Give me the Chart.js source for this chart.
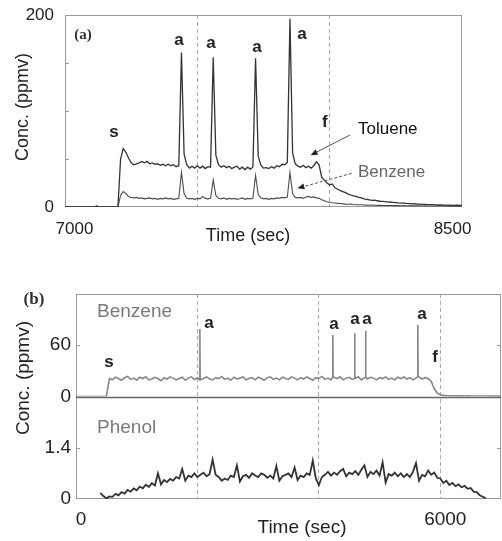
<!DOCTYPE html>
<html>
<head>
<meta charset="utf-8">
<script src="https://cdn.jsdelivr.net/npm/chart.js@4.4.1/dist/chart.umd.min.js"></script>
<style>
  body { margin: 0; background: #fff; }
  #wrap { position: relative; width: 502px; height: 541px; background: #fff; }
  canvas { position: absolute; left: 0; }
  #chartA { top: 0; }
  #chartB { top: 270px; }
</style>
</head>
<body>
<div id="wrap">
  <canvas id="chartA" width="502" height="250"></canvas>
  <canvas id="chartB" width="502" height="271"></canvas>
</div>
<script>
// panel (a): one reading every 10 s from 7000 s
const startA = 7000, stepA = 10;
const toluene = [
  0, 0, 0, 0, 0, 0, 0, 0, 0, 0,
  0, 0, 1.2, 0, 0, 0, 0, 0, 0, 0,
  0, 50, 61, 57, 51, 46, 44, 45, 46, 47.5,
  46, 47.5, 45, 46, 44.5, 45, 43.5, 44.5, 43, 44.5,
  43, 44, 42, 43, 161, 55, 44, 40.5, 42.5, 40.5,
  43, 40.5, 42.5, 40, 42, 41.5, 156, 54, 44, 41.5,
  43, 41, 42.5, 40, 41.5, 42.5, 39.5, 41.5, 39, 41.5,
  39.5, 41.5, 155, 53, 43.5, 40.5, 41, 40, 42, 40.5,
  43, 42, 44.5, 44, 46.5, 196, 56, 45, 42.5, 41.5,
  43.5, 41, 42.5, 40.5, 43, 47, 44, 31, 28, 25,
  23, 24, 20, 18.5, 17, 16, 15, 13.5, 12.5, 11.5,
  11, 10, 9.5, 8.5, 8, 7.5, 7, 7.2, 6.5, 6,
  5.8, 5.5, 5, 5.2, 4.8, 4.5, 4.2, 4, 4.1, 3.7,
  3.5, 3.3, 3.4, 3, 2.9, 2.7, 2.8, 2.5, 2.4, 2.5,
  2.2, 2.1, 2.3, 2, 1.9, 2, 1.8, 1.7, 1.9, 1.6,
  1.6
];
const benzeneA = [
  0, 0, 0, 0, 0, 0, 0, 0, 0, 0,
  0, 0, 0.5, 0, 0, 0, 0, 0, 0, 0,
  0, 12, 16, 14, 11, 10, 9.5, 10, 9, 9.5,
  8.5, 9, 9.5, 8.5, 9, 8, 9, 8.5, 9.5, 8.5,
  9, 8, 8.5, 9, 36, 14, 9, 8.5, 9, 8,
  9, 8.5, 11, 9, 8.5, 9, 28, 12, 9, 8.5,
  9.5, 8, 9, 8.5, 9, 8, 8.5, 9.5, 8, 9,
  8.5, 9, 33, 13, 9.5, 8.5, 9, 8, 9, 8.5,
  9.5, 9, 10, 9.5, 10, 36, 14, 10, 9.5, 10,
  9, 10.5, 11, 10, 10.5, 9.5, 9, 7.5, 6.5, 5.5,
  5, 4.5, 4.2, 3.8, 3.6, 3.3, 3, 2.8, 3, 2.6,
  2.4, 2.3, 2.4, 2.1, 2, 1.9, 2, 1.8, 1.7, 1.8,
  1.6, 1.6, 1.5, 1.5, 1.4, 1.5, 1.4, 1.3, 1.4, 1.3,
  1.3, 1.2, 1.3, 1.2, 1.2, 1.1, 1.2, 1.1, 1.1, 1.0,
  1.1, 1.0, 1.1, 1.0, 1.0, 0.9, 1.0, 0.9, 0.9, 1.0,
  0.9
];
const xTicksA = [7000, 7500, 8000, 8500];
const xTickLabelsA = ["\u2007\u20077000", "", "", "8500\u2007\u2007"];
const yTicksA = [0, 50, 100, 150, 200];
const yTickLabelsA = ["0", "", "", "", "200"];

// panel (b): one reading every 50 s from 0 s
const startB = 0, stepB = 50;
const benzeneB = [
  0, 0, 0, 0, 0, 0, 0, 0, 0, 0,
  0, 21, 19.5, 22.5, 21, 19, 22, 23.5, 20, 21.5,
  19, 22.5, 21, 23, 19.5, 20.5, 22.5, 21, 18.5, 22,
  20.5, 23, 21.5, 19.5, 21, 22.5, 19, 21.5, 23, 20,
  22, 19.5, 21, 23, 20.5, 19.5, 22, 21, 23.5, 20,
  21.5, 19, 22.5, 20.5, 21.5, 23, 19.5, 21, 22, 19.5,
  22.5, 21, 19, 22, 23, 20, 21.5, 19.5, 22.5, 21,
  20, 23, 21.5, 19.5, 22, 20.5, 23, 21, 19, 22,
  21, 23.5, 20, 21.5, 19.5, 22.5, 21, 23, 19.5, 21.5,
  22.5, 20, 21, 23, 19.5, 22, 20.5, 22.5, 21.5, 19.5,
  22, 21, 23, 20, 21.5, 19.5, 22.5, 21, 23, 20.5,
  22, 19.5, 21.5, 23, 20.5, 22, 21, 18, 9, 4,
  2, 1.3, 1, 0.9, 0.8, 0.7, 0.8, 0.7, 0.6, 0.7,
  0.6, 0.6, 0.5, 0.6, 0.5, 0.5, 0.5, 0.4, 0.5, 0.4,
  0.4
];
const spikeTimesB = [2040, 4230, 4590, 4770, 5630];
const spikeHeightsB = [79, 72, 74, 77, 84];
const phenol = [
  null, null, null, null, null, null, null, null, 0.17, 0.08,
  0.02, 0.07, 0.06, 0.14, 0.1, 0.19, 0.15, 0.25, 0.2, 0.29,
  0.24, 0.34, 0.29, 0.39, 0.33, 0.43, 0.37, 0.7, 0.4, 0.52,
  0.46, 0.55, 0.5, 0.6, 0.56, 0.82, 0.5, 0.64, 0.6, 0.7,
  0.6, 0.66, 0.72, 0.62, 0.68, 1.08, 0.66, 0.6, 0.5, 0.56,
  0.52, 0.64, 0.6, 0.92, 0.48, 0.62, 0.66, 0.58, 0.7, 0.64,
  0.6, 0.7, 0.66, 0.58, 0.64, 0.56, 0.9, 0.5, 0.62, 0.66,
  0.7, 0.6, 0.86, 0.52, 0.64, 0.6, 0.7, 0.66, 1.05, 0.56,
  0.38, 0.6, 0.66, 0.74, 0.64, 0.72, 0.66, 0.76, 0.82, 0.62,
  0.72, 0.68, 0.76, 0.66, 0.8, 0.92, 0.6, 0.74, 0.68, 0.78,
  0.64, 1.0, 0.45, 0.68, 0.64, 0.72, 0.62, 0.7, 0.6, 0.68,
  0.6, 0.74, 0.98, 0.5, 0.66, 0.62, 0.78, 0.66, 0.72, 0.58,
  0.56, 0.44, 0.5, 0.38, 0.44, 0.35, 0.4, 0.32, 0.36, 0.28,
  0.3, 0.2, 0.19, 0.1, 0.06, 0.02, null, null, null, null,
  null
];
const xTicksB = [0, 2000, 4000, 6000];
const xTickLabelsB = ["0", "", "", "6000"];
const yTicksBenz = [0, 30, 60, 90, 120];
const yTickLabelsBenz = ["0", "", "60", "", ""];
const yTicksPhenol = [0, 0.7, 1.4, 2.1, 2.8];
const yTickLabelsPhenol = ["0", "", "1.4", "", ""];

Chart.defaults.font.family = "'Liberation Sans', Arial, sans-serif";
Chart.defaults.color = "#222";

const SANS = "'Liberation Sans', Arial, sans-serif";
const SERIF = "'Liberation Serif', 'Times New Roman', serif";

function toPoints(vals, start, step) {
  return vals.map((v, i) => ({ x: start + i * step, y: v }));
}

const benzPtsB = toPoints(benzeneB, startB, stepB);
spikeTimesB.forEach((t, k) => {
  const base = benzeneB[Math.round(t / stepB)];
  benzPtsB.push({ x: t - 5, y: base }, { x: t, y: spikeHeightsB[k] }, { x: t + 5, y: base });
});
benzPtsB.sort((p, q) => p.x - q.x);

// frame, inner ticks, labels and arrows
function overlay(cfg) {
  return {
    id: "overlay",
    beforeDatasetsDraw(chart) {
      const ctx = chart.ctx, a = chart.chartArea;
      ctx.save();
      ctx.strokeStyle = cfg.frame;
      ctx.lineWidth = 1;
      ctx.strokeRect(Math.round(a.left) + 0.5, Math.round(a.top) + 0.5,
        Math.round(a.right - a.left) - 1, Math.round(a.bottom - a.top) - 1);
      (cfg.innerTicks || []).forEach(it => {
        const s = chart.scales[it.scale];
        s.ticks.forEach(t => {
          const py = Math.round(s.getPixelForValue(t.value)) + 0.5;
          if (py < s.top + 2 || py > s.bottom - 2) return;
          ctx.beginPath();
          if (it.left) { ctx.moveTo(a.left, py); ctx.lineTo(a.left + 4, py); }
          if (it.right) { ctx.moveTo(a.right - 4, py); ctx.lineTo(a.right, py); }
          ctx.stroke();
        });
      });
      if (cfg.midLine) {
        const y = Math.round(chart.scales[cfg.midLine].bottom) + 0.5;
        ctx.strokeStyle = "#666";
        ctx.lineWidth = 1.3;
        ctx.beginPath();
        ctx.moveTo(a.left, y);
        ctx.lineTo(a.right, y);
        ctx.stroke();
      }
      ctx.restore();
    },
    afterDatasetsDraw(chart) {
      const ctx = chart.ctx, xs = chart.scales.x;
      ctx.save();
      (cfg.arrows || []).forEach(ar => {
        const ys = chart.scales[ar.scale];
        const x1 = xs.getPixelForValue(ar.t1), y1 = ys.getPixelForValue(ar.v1);
        const x2 = xs.getPixelForValue(ar.t2), y2 = ys.getPixelForValue(ar.v2);
        const ang = Math.atan2(y2 - y1, x2 - x1);
        ctx.strokeStyle = "#555";
        ctx.fillStyle = "#222";
        ctx.lineWidth = 1;
        ctx.setLineDash(ar.dash || []);
        ctx.beginPath();
        ctx.moveTo(x1, y1);
        ctx.lineTo(x2 - 5 * Math.cos(ang), y2 - 5 * Math.sin(ang));
        ctx.stroke();
        ctx.setLineDash([]);
        ctx.beginPath();
        ctx.moveTo(x2, y2);
        ctx.lineTo(x2 - 7 * Math.cos(ang) + 3 * Math.sin(ang), y2 - 7 * Math.sin(ang) - 3 * Math.cos(ang));
        ctx.lineTo(x2 - 7 * Math.cos(ang) - 3 * Math.sin(ang), y2 - 7 * Math.sin(ang) + 3 * Math.cos(ang));
        ctx.closePath();
        ctx.fill();
      });
      ctx.textBaseline = "middle";
      (cfg.notes || []).forEach(n => {
        const ys = chart.scales[n.scale];
        ctx.font = n.font;
        ctx.fillStyle = n.color || "#222";
        ctx.textAlign = n.align || "center";
        ctx.fillText(n.text, xs.getPixelForValue(n.t), ys.getPixelForValue(n.v));
      });
      (cfg.titles || []).forEach(tt => {
        ctx.save();
        ctx.translate(tt.px, tt.py);
        ctx.rotate(tt.rot || 0);
        ctx.font = tt.font;
        ctx.fillStyle = tt.color || "#222";
        ctx.textAlign = "center";
        ctx.fillText(tt.text, 0, 0);
        ctx.restore();
      });
      ctx.restore();
    }
  };
}

const letterFont = "bold 17px " + SANS;

const overlayA = {
  frame: "#9a9a9a",
  innerTicks: [{ scale: "y", left: true, right: false }],
  notes: [
    { text: "(a)", t: 7068, v: 179, scale: "y", font: "bold 15px " + SERIF, color: "#333" },
    { text: "s", t: 7185, v: 78, scale: "y", font: letterFont },
    { text: "a", t: 7431, v: 174, scale: "y", font: letterFont },
    { text: "a", t: 7552, v: 171, scale: "y", font: letterFont },
    { text: "a", t: 7725, v: 166, scale: "y", font: letterFont },
    { text: "a", t: 7895, v: 180, scale: "y", font: letterFont },
    { text: "f", t: 7982, v: 88.5, scale: "y", font: letterFont },
    { text: "Toluene", t: 8107, v: 81, scale: "y", font: "17px " + SANS, color: "#111", align: "left" },
    { text: "Benzene", t: 8107, v: 36.5, scale: "y", font: "17px " + SANS, color: "#666", align: "left" }
  ],
  arrows: [
    { t1: 8077, v1: 75, t2: 7928, v2: 54, scale: "y" },
    { t1: 8083, v1: 35, t2: 7878, v2: 19.5, scale: "y", dash: [3, 2] }
  ],
  titles: [
    { text: "Time (sec)", px: 248, py: 236, font: "18px " + SANS },
    { text: "Conc. (ppmv)", px: 23, py: 107, rot: -Math.PI / 2, font: "18px " + SANS }
  ]
};

const overlayB = {
  frame: "#9a9a9a",
  midLine: "yBenz",
  innerTicks: [
    { scale: "yBenz", left: true, right: true },
    { scale: "yPhen", left: true, right: true }
  ],
  notes: [
    { text: "Benzene", t: 346, v: 99, scale: "yBenz", font: "19px " + SANS, color: "#7a7a7a", align: "left" },
    { text: "Phenol", t: 346, v: 1.94, scale: "yPhen", font: "19px " + SANS, color: "#7a7a7a", align: "left" },
    { text: "s", t: 543, v: 40.4, scale: "yBenz", font: letterFont },
    { text: "a", t: 2191, v: 85.4, scale: "yBenz", font: letterFont },
    { text: "a", t: 4249, v: 84.2, scale: "yBenz", font: letterFont },
    { text: "a", t: 4595, v: 90, scale: "yBenz", font: letterFont },
    { text: "a", t: 4793, v: 90, scale: "yBenz", font: letterFont },
    { text: "a", t: 5699, v: 95.8, scale: "yBenz", font: letterFont },
    { text: "f", t: 5913, v: 46.2, scale: "yBenz", font: letterFont }
  ],
  titles: [
    { text: "(b)", px: 34, py: 30, font: "bold 17px " + SERIF, color: "#333" },
    { text: "Time (sec)", px: 302, py: 258, font: "19px " + SANS },
    { text: "Conc. (ppmv)", px: 24, py: 108, rot: -Math.PI / 2, font: "19px " + SANS }
  ]
};

function setTicks(values) {
  return scale => { scale.ticks = values.map(v => ({ value: v })); };
}

// fixed axis box sizes, and no extra room asked for by the labels
function fixWidth(w) {
  return s => { s.width = w; s.paddingTop = 0; s.paddingBottom = 0; };
}
function fixHeight(h) {
  return s => { s.height = h; s.paddingLeft = 0; s.paddingRight = 0; };
}

new Chart(document.getElementById("chartA"), {
  type: "line",
  data: {
    datasets: [
      { label: "Toluene", data: toPoints(toluene, startA, stepA), borderColor: "#333", borderWidth: 1.3 },
      { label: "Benzene", data: toPoints(benzeneA, startA, stepA), borderColor: "#4d4d4d", borderWidth: 1.1 }
    ]
  },
  options: {
    responsive: false,
    animation: false,
    devicePixelRatio: 1,
    events: [],
    elements: { point: { radius: 0 }, line: { tension: 0 } },
    layout: { padding: { left: 0, right: 40, top: 15, bottom: 0 } },
    plugins: { legend: { display: false }, tooltip: { enabled: false } },
    scales: {
      x: {
        type: "linear", min: 7000, max: 8500,
        afterBuildTicks: setTicks(xTicksA),
        afterFit: fixHeight(43),
        ticks: { padding: 12, font: { size: 17 }, maxRotation: 0, autoSkip: false,
          callback: (v, i) => xTickLabelsA[i] },
        grid: { drawTicks: false, lineWidth: 1,
          color: c => (c.tick && c.tick.value > 7000 && c.tick.value < 8500) ? "#aaaaaa" : "rgba(0,0,0,0)" },
        border: { display: false, dash: [4, 3] }
      },
      y: {
        type: "linear", min: 0, max: 200,
        afterBuildTicks: setTicks(yTicksA),
        afterFit: fixWidth(65),
        ticks: { padding: 11, font: { size: 17 }, callback: (v, i) => yTickLabelsA[i] },
        grid: { display: false, drawTicks: false },
        border: { display: false }
      }
    }
  },
  plugins: [overlay(overlayA)]
});

new Chart(document.getElementById("chartB"), {
  type: "line",
  data: {
    datasets: [
      { label: "Benzene", data: benzPtsB, yAxisID: "yBenz", borderColor: "#878787", borderWidth: 1.6 },
      { label: "Phenol", data: toPoints(phenol, startB, stepB), yAxisID: "yPhen", borderColor: "#333", borderWidth: 1.8 }
    ]
  },
  options: {
    responsive: false,
    animation: false,
    devicePixelRatio: 1,
    events: [],
    elements: { point: { radius: 0 }, line: { tension: 0 } },
    layout: { padding: { left: 0, right: 1, top: 24, bottom: 0 } },
    plugins: { legend: { display: false }, tooltip: { enabled: false } },
    scales: {
      x: {
        type: "linear", min: 0, max: 7000,
        afterBuildTicks: setTicks(xTicksB),
        afterFit: fixHeight(42),
        ticks: { padding: 9, labelOffset: 5, font: { size: 19 }, maxRotation: 0, autoSkip: false,
          callback: (v, i) => xTickLabelsB[i] },
        grid: { drawTicks: false, lineWidth: 1,
          color: c => (c.tick && c.tick.value > 0) ? "#aaaaaa" : "rgba(0,0,0,0)" },
        border: { display: false, dash: [4, 3] }
      },
      yPhen: {
        type: "linear", position: "left", stack: "b", stackWeight: 1, weight: 0,
        min: 0, max: 2.8,
        afterBuildTicks: setTicks(yTicksPhenol),
        afterFit: fixWidth(76),
        ticks: { padding: 5, font: { size: 19 }, callback: (v, i) => yTickLabelsPhenol[i] },
        grid: { display: false, drawTicks: false },
        border: { display: false }
      },
      yBenz: {
        type: "linear", position: "left", stack: "b", stackWeight: 1, weight: 1,
        min: 0, max: 120,
        afterBuildTicks: setTicks(yTicksBenz),
        afterFit: fixWidth(76),
        ticks: { padding: 5, font: { size: 19 }, callback: (v, i) => yTickLabelsBenz[i] },
        grid: { display: false, drawTicks: false },
        border: { display: false }
      }
    }
  },
  plugins: [overlay(overlayB)]
});
</script>
</body>
</html>
